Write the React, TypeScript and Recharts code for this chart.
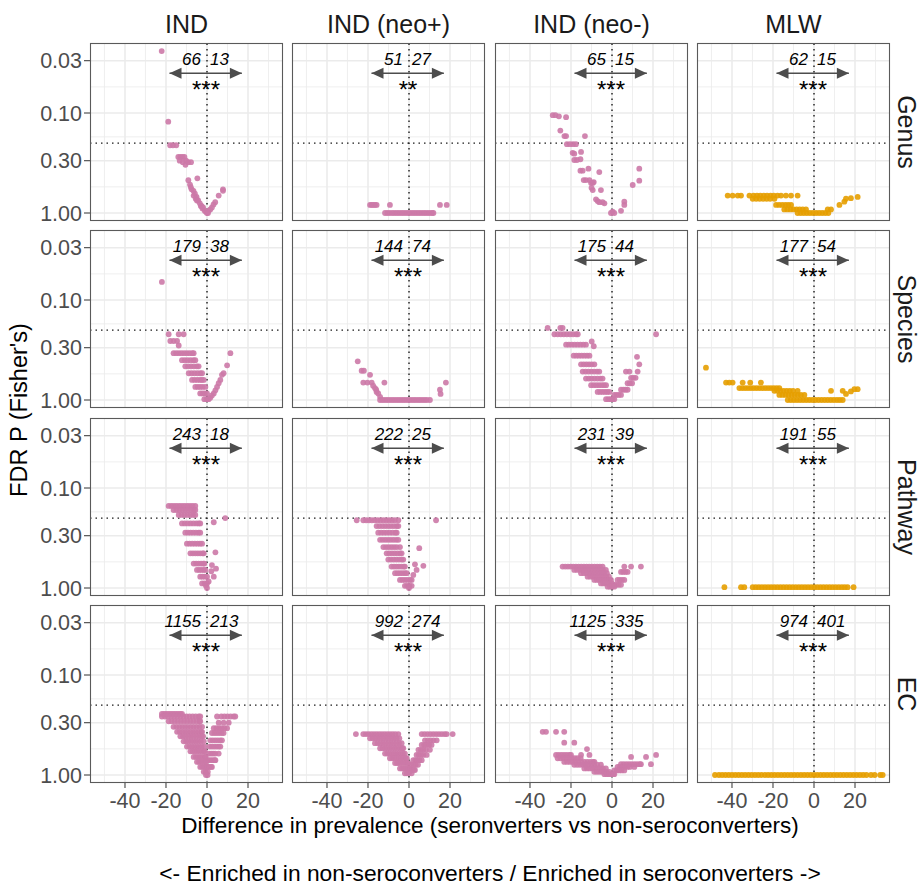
import React from "react";
import {
  ScatterChart,
  Scatter,
  XAxis,
  YAxis,
  CartesianGrid,
  ReferenceLine,
  ReferenceDot,
} from "recharts";

// each row: [FDR p, list of prevalence differences at that p]
type Row = [number, number[]];

const groups = ["IND", "IND (neo+)", "IND (neo-)", "MLW"];
const levels = ["Genus", "Species", "Pathway", "EC"];
const yTicks = [0.03, 0.1, 0.3, 1];
const yMinor = [0.0548, 0.1732, 0.5477];
const xTicks = [-40, -20, 0, 20];
const xMinor = [-50, -30, -10, 10, 30];

const leftCounts = [
  [66, 51, 65, 62],
  [179, 144, 175, 177],
  [243, 222, 231, 191],
  [1155, 992, 1125, 974],
];
const rightCounts = [
  [13, 27, 15, 15],
  [38, 74, 44, 54],
  [18, 25, 39, 55],
  [213, 274, 335, 401],
];
const stars = [
  ["***", "**", "***", "***"],
  ["***", "***", "***", "***"],
  ["***", "***", "***", "***"],
  ["***", "***", "***", "***"],
];

// ---- Genus ----
const indGenus: Row[] = [
  [0.024, [-22.1]],
  [0.122, [-18.9]],
  [0.21, [-18.0, -16.6, -15.0]],
  [0.275, [-14.0, -13.0, -12.0, -11.0]],
  [0.3, [-13.3, -10.2]],
  [0.31, [-11.8, -9.2, -7.8]],
  [0.33, [-10.5]],
  [0.45, [-4.7]],
  [0.47, [-9.1]],
  [0.52, [-8.3]],
  [0.55, [-7.9]],
  [0.58, [-7.5, 7.8]],
  [0.6, [-6.6, 7.8]],
  [0.64, [-5.9]],
  [0.67, [-6.5, 5.7]],
  [0.69, [-5.1]],
  [0.72, [-5.5]],
  [0.75, [-4.3, -4.9]],
  [0.78, [4.0]],
  [0.8, [-3.5]],
  [0.82, [3.2]],
  [0.85, [-2.7, -3.0]],
  [0.88, [-1.9, 2.4]],
  [0.9, [-2.2]],
  [0.92, [1.6]],
  [0.95, [-1.1, 0.8]],
  [0.97, [-0.5]],
  [1.0, [0, 0.5]],
];
const neoPosGenus: Row[] = [
  [0.83, [-19.0, -18.2, -17.4, -16.6, -15.8, -9.3, 15.1, 18.4]],
  [1.0, [-11.7, -10.5, -9.3, -8.0, -6.8, -5.6, -4.4, -3.2, -2.0, -0.8, 0.4, 1.6, 2.8, 4.0, 5.2, 6.4, 7.6, 8.8, 10.0, 11.2, 11.9]],
];
const neoNegGenus: Row[] = [
  [0.105, [-28.9, -27.6]],
  [0.108, [-25.9]],
  [0.11, [-22.4]],
  [0.15, [-25.2]],
  [0.17, [-23.2, -22.4, -13.2]],
  [0.205, [-22.0, -20.5, -19.0, -17.6]],
  [0.245, [-15.1]],
  [0.25, [-19.2]],
  [0.255, [-18.4]],
  [0.29, [-15.4]],
  [0.295, [-18.4, -17.1]],
  [0.36, [-11.5, 13.3]],
  [0.377, [-15.4, -14.3]],
  [0.39, [-6.2]],
  [0.468, [-13.8, -12.7, -11.0]],
  [0.475, [13.3]],
  [0.49, [-8.9]],
  [0.5, [-10.2, -9.4]],
  [0.525, [10.1]],
  [0.56, [-10.0]],
  [0.59, [-9.4, -5.4]],
  [0.73, [-7.8]],
  [0.76, [-7.0]],
  [0.77, [6.0]],
  [0.78, [-6.2, -4.6]],
  [0.8, [-3.7]],
  [0.83, [6.0]],
  [0.95, [4.4]],
  [0.97, [0.3]],
  [1.0, [-0.5, 1.1]],
];
const mlwGenus: Row[] = [
  [0.67, [-42.1, -39.7, -37.2, -35.6, -31.5, -29.5, -27.8, -26.2, -24.5, -22.9, -21.2, -19.6, -17.8, -16.1, -13.7, -11.2, -8.0]],
  [0.69, [21.3]],
  [0.71, [18.0]],
  [0.72, [-29.9, -28.2, -26.5, -24.8, -23.1, -21.4, -19.3, 15.6]],
  [0.77, [14.8]],
  [0.83, [-18.5, -17.0, -15.5, -14.0, -12.6, -11.2, 12.4]],
  [0.92, [-14.5, -13.0, -11.5, -10.0, -8.5, -7.0, -5.5, -3.9, 6.7, 8.3]],
  [1.0, [-8.0, -6.5, -5.0, -3.5, -2.0, -0.5, 1.0, 2.5, 4.0, 5.5, 7.0]],
];

// ---- Species ----
const indSpecies: Row[] = [
  [0.066, [-22.0]],
  [0.22, [-18.7, -13.8, -11.4]],
  [0.257, [-17.9, -16.3, -14.6]],
  [0.285, [-13.8]],
  [0.34, [-16.3, -15.0, -13.7, -12.4, -11.1, -9.8, -8.5, -7.2, -6.5, 11.4]],
  [0.4, [-12.2, -10.8, -9.4, -8.0, -6.6, -5.7]],
  [0.45, [9.8]],
  [0.46, [-10.6, -9.2, -7.8, -6.4, -5.0, -4.1]],
  [0.54, [-8.9, -7.5, -6.1, -4.7, -3.3, -2.4, 8.1]],
  [0.56, [7.3]],
  [0.63, [-7.3, -6.0, -4.7, -3.4, -2.5, -1.6, 6.5]],
  [0.68, [5.7]],
  [0.74, [-5.7, -4.5, -3.3, -2.1, -0.8, 4.9]],
  [0.8, [4.1]],
  [0.86, [-3.3, -2.2, -1.1, 0.0, 3.3]],
  [0.9, [2.4]],
  [0.95, [1.6]],
  [0.98, [-1.3, -0.2, 0.8]],
];
const neoPosSpecies: Row[] = [
  [0.41, [-25.0]],
  [0.51, [-23.1, -22.0]],
  [0.56, [-19.0]],
  [0.67, [-22.3, -20.3, -18.2, -12.0, 18.0]],
  [0.72, [-17.5]],
  [0.76, [-16.6]],
  [0.79, [-16.0, 15.1]],
  [0.83, [-15.8]],
  [0.86, [-15.0]],
  [0.87, [15.4]],
  [0.93, [-14.1]],
  [1.0, [-14.1, -12.9, -11.7, -10.5, -9.3, -8.1, -6.9, -5.7, -4.5, -3.3, -2.1, -0.9, 0.3, 1.5, 2.7, 3.9, 5.1, 6.3, 7.5, 8.7, 10.2]],
];
const neoNegSpecies: Row[] = [
  [0.19, [-31.4, -25.2, -24.1]],
  [0.22, [-28.1, -26.5, -25.0, -23.5, -22.0, -20.5, -19.0, -17.5, -16.7, 21.5]],
  [0.26, [-9.9]],
  [0.28, [-22.4, -21.0, -19.6, -18.2, -16.8, -15.4, -14.0, -12.7]],
  [0.29, [-8.9]],
  [0.36, [-18.7, -17.4, -16.1, -14.8, -13.5, -12.2, -11.0]],
  [0.37, [12.2]],
  [0.44, [-15.1, -13.8, -12.5, -11.2, -9.9, -8.6, 13.3]],
  [0.52, [-14.3, -12.9, -11.5, -10.1, -8.7, -7.3, -6.2, 6.8, 8.5, 12.5]],
  [0.6, [9.3, 10.4, 11.5]],
  [0.61, [-12.7, -11.3, -9.9, -8.5, -7.1, -5.7, -4.6]],
  [0.68, [7.6, 8.7, 9.8]],
  [0.71, [-10.2, -8.9, -7.6, -6.3, -5.0, -3.9, -2.9]],
  [0.79, [4.4, 5.5, 6.6, 7.6]],
  [0.83, [-7.0, -5.8, -4.6, -3.4, -2.3, -1.3]],
  [0.89, [1.1, 2.2, 3.3, 4.4]],
  [0.98, [-2.9, -1.8, -0.7, 0.3, 1.1]],
];
const mlwSpecies: Row[] = [
  [0.475, [-52.7]],
  [0.67, [-42.9, -41.3, -39.7, -34.8, -31.1, -25.9]],
  [0.76, [-36.4, -35.0, -33.6, -32.2, -30.8, -29.4, -28.0, -26.6, -25.2, -23.8, -22.4, -21.0, -19.6, -18.2, -16.9]],
  [0.78, [19.7, 21.3]],
  [0.81, [-19.3, -17.8, -16.3, -14.8, -13.3, -11.8, -10.2, -8.0, 8.3, 14.0]],
  [0.82, [18.0]],
  [0.87, [15.6]],
  [0.89, [-16.9, -15.4, -13.9, -12.4, -10.9, -9.4, -7.9, -6.4, -4.7]],
  [1.0, [-12.8, -11.3, -9.8, -8.3, -6.8, -5.3, -3.8, -2.3, -0.8, 0.7, 2.2, 3.7, 5.2, 6.7, 8.2, 9.7, 11.2, 12.6, 14.0]],
];

// ---- Pathway ----
const indPathway: Row[] = [
  [0.151, [-18.7, -17.4, -16.1, -14.8, -13.5, -12.2, -10.9, -9.6, -8.3, -7.0, -5.7]],
  [0.166, [-16.3, -14.9, -13.5, -12.1, -10.7, -9.3, -7.9, -6.5, -5.7]],
  [0.186, [-13.8, -12.4, -11.0, -9.6, -8.2, -6.8, -5.7]],
  [0.2, [8.9]],
  [0.22, [3.3]],
  [0.226, [-12.2, -10.8, -9.4, -8.0, -6.6, -5.2, -4.0, -3.3]],
  [0.28, [-10.6, -9.3, -8.0, -6.7, -5.4, -4.1, -3.3]],
  [0.36, [-9.8, -8.5, -7.2, -5.9, -4.6, -3.4, -2.4]],
  [0.44, [4.1]],
  [0.45, [-8.1, -6.9, -5.7, -4.5, -3.3, -2.1, -1.6]],
  [0.57, [-6.5, -5.3, -4.1, -2.9, -1.8, -1.3]],
  [0.59, [2.4]],
  [0.64, [4.4]],
  [0.66, [-4.9, -3.8, -2.7, -1.6, -0.8]],
  [0.68, [2.1]],
  [0.77, [-3.3, -2.2, -1.1, 0.0, 3.3]],
  [0.86, [0.8]],
  [0.9, [-2.4, -1.2, 0.0]],
  [0.95, [-0.5]],
  [1.0, [0.0]],
];
const neoPosPathway: Row[] = [
  [0.21, [-25.5, -22.3, -20.9, -19.5, -18.1, -16.7, -15.3, -13.9, -12.5, -11.1, -9.7, -8.3, -6.9, -5.2, 13.2]],
  [0.24, [-15.8, -14.4, -13.0, -11.6, -10.2, -8.8, -7.4, -6.0, -5.2]],
  [0.28, [-15.0, -13.6, -12.2, -10.8, -9.4, -8.0, -6.6, -6.0]],
  [0.33, [-14.1, -12.8, -11.5, -10.2, -8.9, -7.6, -6.3, -5.2]],
  [0.39, [-12.5, -11.2, -9.9, -8.6, -7.3, -6.0, -4.4]],
  [0.4, [5.0]],
  [0.45, [-10.9, -9.6, -8.3, -7.0, -5.7, -4.4, -3.6]],
  [0.52, [-10.1, -8.8, -7.5, -6.2, -4.9, -3.6, -2.8]],
  [0.58, [2.9]],
  [0.6, [7.0]],
  [0.61, [-8.5, -7.3, -6.1, -4.9, -3.7, -2.6, -2.0]],
  [0.66, [3.7]],
  [0.71, [-6.8, -5.6, -4.4, -3.2, -2.0, -1.1]],
  [0.74, [2.1]],
  [0.83, [-4.4, -3.2, -2.0, -0.8, 0.5, 1.3]],
  [0.95, [-2.0, -0.9, 0.2, 1.3]],
  [1.0, [0.0]],
];
const neoNegPathway: Row[] = [
  [0.61, [-24.1, -22.8, -21.5, -20.2, -18.9, -17.6, -16.3, -15.0, -13.7, -12.4, -11.1, -9.8, -8.5, -7.2, -5.9, -4.6, 6.0, 9.3, 14.1]],
  [0.66, [-18.4, -17.0, -15.6, -14.2, -12.8, -11.4, -10.0, -8.6, -7.2, -5.8, -4.4, -3.0]],
  [0.69, [4.4, 5.5, 6.6, 7.6]],
  [0.71, [-15.1, -13.7, -12.3, -10.9, -9.5, -8.1, -6.7, -5.3, -3.9, -2.5]],
  [0.77, [-11.9, -10.6, -9.3, -8.0, -6.7, -5.4, -4.1, -2.8, -1.5]],
  [0.83, [-8.6, -7.4, -6.2, -5.0, -3.8, -2.6, -1.4, -0.5, 2.7, 3.8, 4.9, 6.0]],
  [0.9, [-5.4, -4.3, -3.2, -2.1, -1.0, 0.0]],
  [0.93, [1.1, 2.2, 3.3, 4.4]],
  [0.97, [-2.1, -1.0, 0.0, 1.1]],
];
const mlwPathway: Row[] = [
  [0.98, [-43.7, -35.6, -34.0, -29.9, -28.4, -26.9, -25.4, -23.9, -22.4, -20.9, -19.4, -17.9, -16.4, -14.9, -13.4, -11.9, -10.4, -8.9, -7.4, -5.9, -4.4, -2.9, -1.4, 0.1, 1.6, 3.1, 4.6, 6.1, 7.6, 9.1, 10.6, 12.1, 13.6, 15.0, 16.4, 19.3]],
];

// ---- EC ----
const indEc: Row[] = [
  [0.245, [-22.0, -21.0, -20.0, -19.0, -18.0, -17.0, -16.0, -15.0, -14.0, -13.0, -12.2]],
  [0.26, [-22.0, -20.5, -19.0, -17.5, -16.0, -14.5, -13.0, -11.5, -10.0, -8.5, -7.0, -5.5, -4.0, -3.3, 4.9, 7.0, 8.5, 10.0, 11.5, 13.0, 13.8]],
  [0.29, [-18.7, -17.2, -15.7, -14.2, -12.7, -11.2, -9.7, -8.2, -6.7, -5.2, -3.7, -3.3]],
  [0.3, [5.7, 8.1, 10.6]],
  [0.33, [-16.3, -14.9, -13.5, -12.1, -10.7, -9.3, -7.9, -6.5, -5.1, -3.7, -2.4]],
  [0.34, [3.3, 4.6, 5.9, 7.2, 8.5, 9.8]],
  [0.37, [-14.6, -13.3, -12.0, -10.7, -9.4, -8.1, -6.8, -5.5, -4.2, -2.9, -2.4]],
  [0.38, [2.4, 3.6, 4.8, 6.0, 7.2, 8.1]],
  [0.41, [-13.0, -11.7, -10.4, -9.1, -7.8, -6.5, -5.2, -3.9, -2.6, -1.9]],
  [0.45, [1.6, 2.8, 4.0, 5.2, 6.4, 7.3]],
  [0.46, [-11.4, -10.2, -9.0, -7.8, -6.6, -5.4, -4.2, -3.0, -1.6]],
  [0.52, [-9.8, -8.6, -7.4, -6.2, -5.0, -3.8, -2.6, -1.3, 1.3, 2.4, 3.5, 4.6, 5.7, 6.5]],
  [0.58, [-8.1, -7.0, -5.9, -4.8, -3.7, -2.6, -1.5, -1.0]],
  [0.61, [1.0, 2.0, 3.0, 4.0, 5.7]],
  [0.66, [-6.5, -5.4, -4.3, -3.2, -2.1, -1.0, -0.6]],
  [0.71, [0.7, 1.7, 2.7, 3.7, 4.1]],
  [0.74, [-4.9, -3.9, -2.9, -1.9, -0.9, -0.3]],
  [0.83, [-3.3, -2.3, -1.3, -0.3, 0.0, 0.3, 1.2, 2.0, 2.4]],
  [0.93, [-1.6, -0.6, 0.4]],
  [1.0, [-0.5, 0.3]],
];
const neoPosEc: Row[] = [
  [0.39, [-25.9, -22.3, -21.0, -19.7, -18.4, -17.1, -15.8, -14.5, -13.2, -11.9, -10.6, -9.3, -8.0, -6.7, -5.2, 6.2, 7.6, 9.0, 10.4, 11.8, 13.2, 14.6, 16.0, 17.4, 18.4, 21.3]],
  [0.43, [-19.0, -17.7, -16.4, -15.1, -13.8, -12.5, -11.2, -9.9, -8.6, -7.3, -6.0, -4.7]],
  [0.45, [7.8, 9.2, 10.6, 12.0, 13.5]],
  [0.48, [-16.6, -15.3, -14.0, -12.7, -11.4, -10.1, -8.8, -7.5, -6.2, -4.9, -3.6]],
  [0.5, [6.2, 7.4, 8.6, 9.8, 11.0]],
  [0.54, [-14.1, -12.9, -11.7, -10.5, -9.3, -8.1, -6.9, -5.7, -4.5, -3.3, -2.8]],
  [0.56, [4.6, 5.8, 7.0, 8.2, 10.2]],
  [0.61, [-11.7, -10.6, -9.5, -8.4, -7.3, -6.2, -5.1, -4.0, -2.9, -2.0]],
  [0.63, [3.7, 4.8, 5.9, 7.0, 8.6]],
  [0.68, [-9.3, -8.2, -7.1, -6.0, -4.9, -3.8, -2.7, -1.6, -1.1]],
  [0.71, [2.1, 3.1, 4.1, 5.1, 6.2]],
  [0.76, [-6.8, -5.8, -4.8, -3.8, -2.8, -1.8, -0.8, -0.3]],
  [0.79, [1.3, 2.3, 3.3, 4.4]],
  [0.86, [-4.4, -3.4, -2.4, -1.4, -0.4, 0.5]],
  [0.89, [0.5, 1.5, 2.5, 2.9]],
  [0.96, [-2.0, -1.0, 0.0, 1.3]],
];
const neoNegEc: Row[] = [
  [0.37, [-33.8, -32.2, -27.3, -23.3]],
  [0.475, [-23.3, -18.4]],
  [0.55, [-12.2]],
  [0.63, [-27.3, -26.0, -24.7, -23.4, -22.1, -20.8, -20.0, -15.1, -11.0, 21.5]],
  [0.66, [9.3, 16.6]],
  [0.68, [-26.5, -25.1, -23.7, -22.3, -20.9, -19.5, -18.1, -16.7, -15.3]],
  [0.74, [-23.3, -21.9, -20.5, -19.1, -17.7, -16.3, -14.9, -13.5, -12.1, -10.7, -9.3, -8.6]],
  [0.78, [4.4, 5.7, 7.0, 8.3, 9.6, 10.9, 12.2, 13.5, 14.1, 19.0]],
  [0.79, [-18.4, -17.0, -15.6, -14.2, -12.8, -11.4, -10.0, -8.6, -7.2, -5.4]],
  [0.83, [2.7, 3.9, 5.1, 6.3, 7.5, 8.7, 10.9]],
  [0.86, [-13.5, -12.2, -10.9, -9.6, -8.3, -7.0, -5.7, -4.4, -3.0]],
  [0.9, [1.1, 2.3, 3.5, 4.7, 6.0]],
  [0.93, [-8.6, -7.4, -6.2, -5.0, -3.8, -2.6, -1.3]],
  [0.98, [-3.7, -2.6, -1.5, -0.4, 0.6, 1.1]],
];
const mlwEc: Row[] = [
  [1.0, [-48.3, -46.4, -44.8, -43.2, -41.6, -40.0, -38.4, -36.8, -35.2, -33.6, -32.0, -30.4, -28.8, -27.2, -25.6, -24.0, -22.4, -20.8, -19.2, -17.6, -16.0, -14.4, -12.8, -11.2, -9.6, -8.0, -6.4, -4.8, -3.2, -1.6, 0.0, 1.6, 3.2, 4.8, 6.4, 8.0, 9.6, 11.2, 12.8, 14.4, 16.0, 17.6, 19.2, 20.8, 22.4, 24.0, 25.6, 27.8, 29.6, 32.3, 33.5]],
];

const panelRows: Row[][][] = [
  [indGenus, neoPosGenus, neoNegGenus, mlwGenus],
  [indSpecies, neoPosSpecies, neoNegSpecies, mlwSpecies],
  [indPathway, neoPosPathway, neoNegPathway, mlwPathway],
  [indEc, neoPosEc, neoNegEc, mlwEc],
];

const FONT = '"Liberation Sans", Arial, Helvetica, sans-serif';
const PINK = "#CC79A7";
const ORANGE = "#E69F00";
const PANEL_W = 193;
const PANEL_H = 178;
const Y_AXIS_W = 90;
const X_AXIS_H = 40;
const LABEL_ROOM = 12; // room under left panels so the 1.00 label is not clipped
const lefts = [90, 292, 495, 697];
const tops = [43, 230, 418, 605];
const X_DOMAIN: [number, number] = [-57.07, 37.07];
const Y_DOMAIN: [number, number] = [0.01995, 1.202];

const arrowHeads = [
  { x: -18.3, p: 0.04, d: -1 },
  { x: 17, p: 0.04, d: 1 },
];

const toPoints = (rows: Row[]) =>
  rows.flatMap(([p, xs]) => xs.map((x) => ({ x, p })));

const Panel = ({ row, col }: { row: number; col: number }) => {
  const data = toPoints(panelRows[row][col]);
  const color = col === 3 ? ORANGE : PINK;
  const showY = col === 0;
  const showX = row === 3;
  const extraBottom = showY && !showX ? LABEL_ROOM : 0;
  const left = leftCounts[row][col];
  const right = rightCounts[row][col];
  const sig = stars[row][col];

  return (
    <ScatterChart
      width={PANEL_W + (showY ? Y_AXIS_W : 0)}
      height={PANEL_H + (showX ? X_AXIS_H : 0) + extraBottom}
      margin={{ top: 0, right: 0, bottom: extraBottom, left: 0 }}
    >
      <CartesianGrid
        stroke="#EBEBEB"
        strokeWidth={0.8}
        horizontalValues={yMinor}
        verticalValues={xMinor}
      />
      <CartesianGrid
        stroke="#EBEBEB"
        strokeWidth={1.6}
        horizontalValues={yTicks}
        verticalValues={xTicks}
      />
      <XAxis
        type="number"
        dataKey="x"
        domain={X_DOMAIN}
        allowDataOverflow
        ticks={xTicks}
        interval={0}
        hide={!showX}
        height={X_AXIS_H}
        axisLine={false}
        tickLine={{ stroke: "#333333" }}
        tickSize={5}
        tickMargin={5}
        tick={{ fontSize: 21.5, fill: "#4D4D4D", fontFamily: FONT }}
      />
      <YAxis
        type="number"
        dataKey="p"
        scale="log"
        domain={Y_DOMAIN}
        reversed
        allowDataOverflow
        ticks={yTicks}
        interval={0}
        hide={!showY}
        width={Y_AXIS_W}
        axisLine={false}
        tickLine={{ stroke: "#333333" }}
        tickSize={6}
        tickMargin={2}
        tick={{ fontSize: 21.5, fill: "#4D4D4D", fontFamily: FONT }}
        tickFormatter={(v: number) => v.toFixed(2)}
      />
      <Scatter
        data={data}
        isAnimationActive={false}
        shape={(props: any) => (
          <circle cx={props.cx} cy={props.cy} r={2.9} fill={color} fillOpacity={0.9} />
        )}
      />
      <ReferenceLine x={0} stroke="#1A1A1A" strokeWidth={1.4} strokeDasharray="1.5 4" />
      <ReferenceLine y={0.2} stroke="#1A1A1A" strokeWidth={1.4} strokeDasharray="1.5 4" />
      <ReferenceLine
        segment={[
          { x: arrowHeads[0].x, y: arrowHeads[0].p },
          { x: arrowHeads[1].x, y: arrowHeads[1].p },
        ]}
        stroke="#4D4D4D"
        strokeWidth={1.5}
      />
      <Scatter
        data={arrowHeads}
        isAnimationActive={false}
        shape={(props: any) => {
          const d = props.payload.d;
          const { cx, cy } = props;
          return (
            <polygon
              points={`${cx},${cy} ${cx - d * 12},${cy - 5.5} ${cx - d * 12},${cy + 5.5}`}
              fill="#4D4D4D"
            />
          );
        }}
      />
      <ReferenceDot
        x={0}
        y={0.033}
        r={0}
        shape={(props: any) => (
          <g fontFamily={FONT} fontSize={17} fontStyle="italic" fill="#000">
            <text x={props.cx - 6} y={props.cy} textAnchor="end">
              {left}
            </text>
            <text x={props.cx + 3} y={props.cy} textAnchor="start">
              {right}
            </text>
          </g>
        )}
      />
      <ReferenceDot
        x={0}
        y={0.071}
        r={0}
        shape={(props: any) => (
          <text
            x={props.cx - 1}
            y={props.cy}
            textAnchor="middle"
            fontFamily={FONT}
            fontSize={24}
            fill="#000"
          >
            {sig}
          </text>
        )}
      />
    </ScatterChart>
  );
};

export default function App() {
  return (
    <div
      style={{
        position: "absolute",
        left: 0,
        top: 0,
        width: 921,
        height: 885,
        background: "#fff",
        fontFamily: FONT,
        overflow: "hidden",
      }}
    >
      {levels.map((_, r) =>
        groups.map((_, c) => (
          <div
            key={`${r}-${c}`}
            style={{
              position: "absolute",
              left: c === 0 ? lefts[0] - Y_AXIS_W : lefts[c],
              top: tops[r],
            }}
          >
            <Panel row={r} col={c} />
          </div>
        ))
      )}
      <svg
        width={921}
        height={885}
        style={{ position: "absolute", left: 0, top: 0, pointerEvents: "none" }}
        fontFamily={FONT}
      >
        {levels.map((_, r) =>
          groups.map((_, c) => (
            <rect
              key={`b-${r}-${c}`}
              x={lefts[c] + 0.5}
              y={tops[r] + 0.5}
              width={PANEL_W - 1}
              height={PANEL_H - 1}
              fill="none"
              stroke="#5A5A5A"
              strokeWidth={1.1}
            />
          ))
        )}
        {groups.map((g, c) => (
          <text key={g} x={lefts[c] + PANEL_W / 2} y={33} textAnchor="middle" fontSize={25} fill="#1A1A1A">
            {g}
          </text>
        ))}
        {levels.map((l, r) => (
          <text
            key={l}
            transform={`translate(898, ${tops[r] + PANEL_H / 2}) rotate(90)`}
            textAnchor="middle"
            fontSize={25}
            fill="#1A1A1A"
          >
            {l}
          </text>
        ))}
        <text transform="translate(27, 410) rotate(-90)" textAnchor="middle" fontSize={23.5} fill="#000">
          FDR P (Fisher's)
        </text>
        <text x={490} y={833} textAnchor="middle" fontSize={22.5} fill="#000">
          Difference in prevalence (seronverters vs non-seroconverters)
        </text>
        <text x={490} y={881} textAnchor="middle" fontSize={22.8} fill="#000">
          {"<- Enriched in non-seroconverters / Enriched in seroconverters ->"}
        </text>
      </svg>
    </div>
  );
}
